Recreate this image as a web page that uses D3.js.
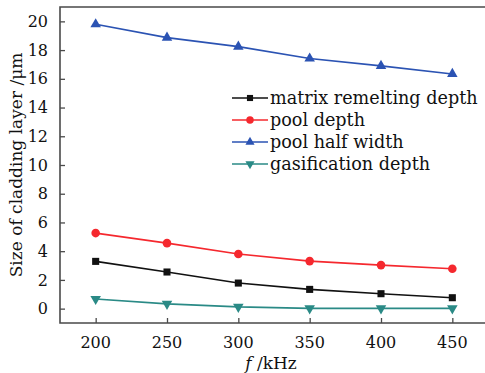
<!DOCTYPE html>
<html>
<head>
<meta charset="utf-8">
<script src="https://cdn.jsdelivr.net/npm/d3@7"></script>
<style>
  html, body { margin: 0; padding: 0; background: #fff; }
  svg { display: block; }
  text { font-family: "DejaVu Serif", "Liberation Serif", serif; fill: #111; }
</style>
</head>
<body>
<svg id="chart" width="485" height="373"></svg>
<script>
// Frequency (kHz) and measured sizes (μm)
const frequencies = [200, 250, 300, 350, 400, 450];
const matrixRemeltingDepth = [3.29, 2.55, 1.78, 1.34, 1.04, 0.76];
const poolDepth = [5.26, 4.56, 3.80, 3.31, 3.03, 2.78];
const poolHalfWidth = [19.8, 18.87, 18.24, 17.41, 16.9, 16.34];
const gasificationDepth = [0.67, 0.33, 0.12, 0.02, 0.02, 0.02];
const yTicks = [0, 2, 4, 6, 8, 10, 12, 14, 16, 18, 20];
const xTicks = [200, 250, 300, 350, 400, 450];

const seriesList = [
  { name: "matrix remelting depth", values: matrixRemeltingDepth, color: "#111111", symbol: d3.symbolSquare, size: 50, rot: 0 },
  { name: "pool depth", values: poolDepth, color: "#f5282e", symbol: d3.symbolCircle, size: 58, rot: 0 },
  { name: "pool half width", values: poolHalfWidth, color: "#2b53b3", symbol: d3.symbolTriangle, size: 48, rot: 0 },
  { name: "gasification depth", values: gasificationDepth, color: "#2a8a86", symbol: d3.symbolTriangle, size: 48, rot: 180 }
];

const svg = d3.select("#chart");
const plotLeft = 60, plotTop = 7, plotBottom = 323, plotRight = 488;

const x = d3.scaleLinear().domain([175, 475]).range([plotLeft, plotRight]);
const y = d3.scaleLinear().domain([-1, 21]).range([plotBottom, plotTop]);

const frameColor = "#4a4a4a";

// inward ticks
const xAxis = d3.axisTop(x).tickValues(xTicks).tickSize(5).tickFormat("");
const yAxis = d3.axisRight(y).tickValues(yTicks).tickSize(5).tickFormat("");

svg.append("g").attr("transform", `translate(0,${plotBottom})`).call(xAxis)
  .call(g => g.select(".domain").remove())
  .call(g => g.selectAll("line").attr("stroke", frameColor).attr("stroke-width", 1.3));
svg.append("g").attr("transform", `translate(${plotLeft},0)`).call(yAxis)
  .call(g => g.select(".domain").remove())
  .call(g => g.selectAll("line").attr("stroke", frameColor).attr("stroke-width", 1.3));

// tick labels
svg.append("g").selectAll("text").data(xTicks).join("text")
  .attr("x", d => x(d)).attr("y", 348)
  .attr("text-anchor", "middle").attr("font-size", 16)
  .text(d => d);
svg.append("g").selectAll("text").data(yTicks).join("text")
  .attr("x", 48).attr("y", d => y(d)).attr("dy", "0.35em")
  .attr("text-anchor", "end").attr("font-size", 16)
  .text(d => d);

// frame: left, top, bottom
svg.append("path")
  .attr("d", `M${plotRight},${plotTop}H${plotLeft}V${plotBottom}H${plotRight}`)
  .attr("fill", "none").attr("stroke", frameColor).attr("stroke-width", 1.6);

// series
const line = d3.line().x((d, i) => x(frequencies[i])).y(d => y(d));
seriesList.forEach(s => {
  svg.append("path").datum(s.values)
    .attr("d", line).attr("fill", "none")
    .attr("stroke", s.color).attr("stroke-width", 1.6);
  svg.append("g").selectAll("path").data(s.values).join("path")
    .attr("d", d3.symbol().type(s.symbol).size(s.size))
    .attr("transform", (d, i) => `translate(${x(frequencies[i])},${y(d)}) rotate(${s.rot})`)
    .attr("fill", s.color);
});

// legend
const legend = svg.append("g").attr("transform", "translate(232,98)");
seriesList.forEach((s, i) => {
  const g = legend.append("g").attr("transform", `translate(0,${i * 22})`);
  g.append("line").attr("x1", 0).attr("x2", 36).attr("y1", 0).attr("y2", 0)
    .attr("stroke", s.color).attr("stroke-width", 1.6);
  g.append("path").attr("d", d3.symbol().type(s.symbol).size(s.size * 0.75))
    .attr("transform", `translate(18,0) rotate(${s.rot})`).attr("fill", s.color);
  g.append("text").attr("x", 38).attr("dy", "0.33em").attr("font-size", 17.6).text(s.name);
});

// axis titles
svg.append("text")
  .attr("transform", `translate(22,${(plotTop + plotBottom) / 2}) rotate(-90)`)
  .attr("text-anchor", "middle").attr("font-size", 17)
  .text("Size of cladding layer /μm");

const xt = svg.append("text").attr("x", 271).attr("y", 369)
  .attr("text-anchor", "middle").attr("font-size", 17);
xt.append("tspan").attr("font-style", "italic").text("f");
xt.append("tspan").text(" /kHz");
</script>
</body>
</html>
